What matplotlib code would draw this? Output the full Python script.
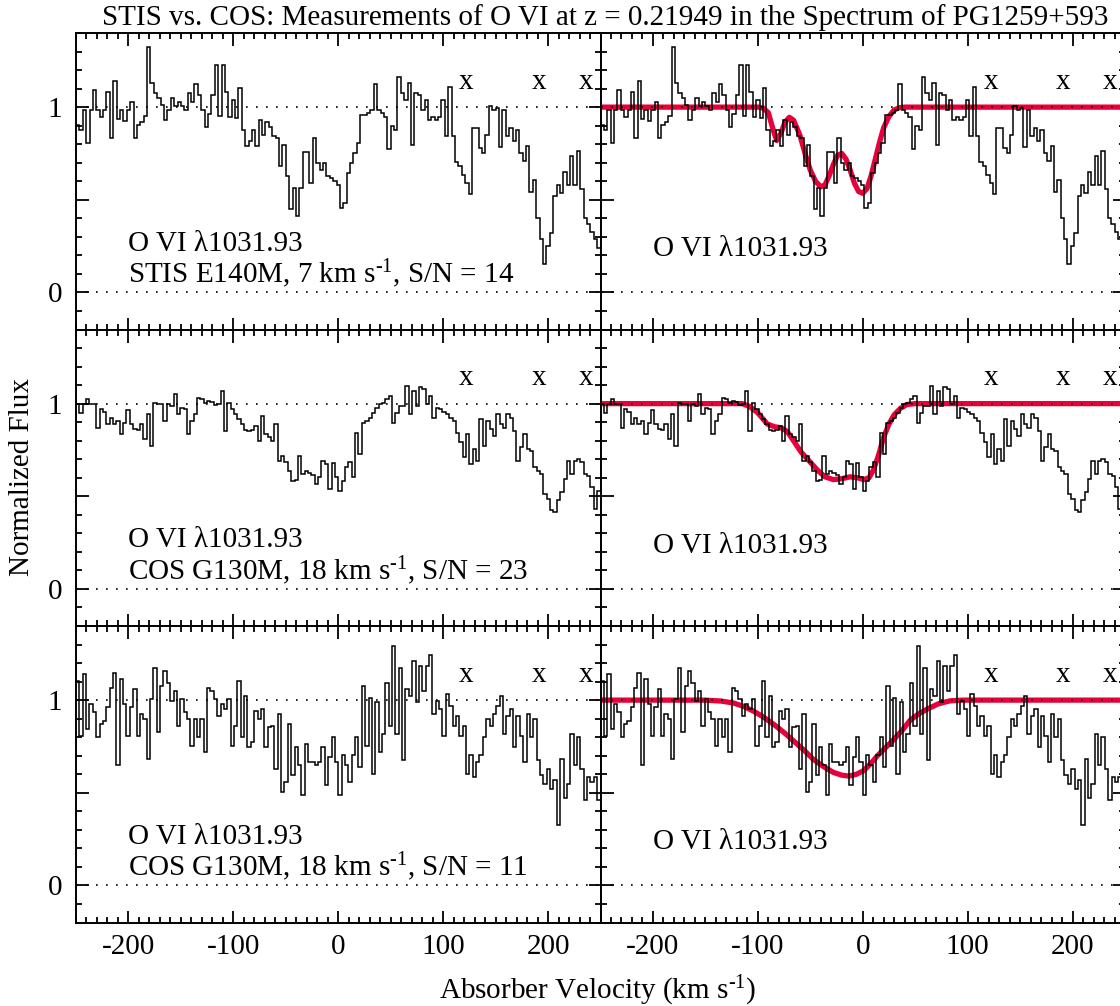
import numpy as np
import matplotlib
matplotlib.use("Agg")
import matplotlib.pyplot as plt
from matplotlib.ticker import MultipleLocator, FixedLocator, FixedFormatter

# ---------------- data ----------------
v_range = [-250.0, 250.0]          # velocity coverage of the plotted pixels (km/s)

stis_flux = [
    0.905, 0.878, 0.986, 0.806, 0.986, 1.093, 0.986, 0.946, 0.986, 1.079,
    0.833, 1.143, 0.935, 0.986, 0.923, 0.986, 1.030, 0.833, 0.905, 0.918,
    0.953, 1.323, 1.129, 1.075, 1.048, 1.013, 0.932, 0.986, 1.048, 1.004,
    1.030, 1.007, 0.986, 1.075, 1.030, 1.124, 1.066, 0.986, 0.892, 0.962,
    1.066, 1.228, 0.950, 1.228, 1.084, 0.946, 1.036, 0.941, 1.102, 0.878,
    0.789, 0.815, 0.878, 0.792, 0.932, 0.851, 0.918, 0.892, 0.846, 0.833,
    0.681, 0.797, 0.627, 0.448, 0.565, 0.412, 0.565, 0.756, 0.756, 0.591,
    0.833, 0.699, 0.663, 0.699, 0.627, 0.618, 0.600, 0.582,
    0.457, 0.484, 0.645, 0.699, 0.753, 0.806, 0.959, 0.959, 0.968, 0.986,
    1.125, 0.986, 0.968, 0.946, 0.774, 0.896, 0.878, 1.165, 1.075, 1.039,
    1.129, 0.797, 1.075, 1.066, 0.986, 1.039, 0.932, 0.946, 0.932, 0.946,
    1.039, 0.842, 1.111, 0.842, 0.703, 0.681, 0.636, 0.591, 0.529, 0.887,
    0.887, 0.780, 0.753, 0.851, 1.007, 0.986, 0.995, 0.785, 0.986, 0.842,
    0.887, 0.815, 0.878, 0.753, 0.708, 0.789, 0.541, 0.609, 0.403, 0.287,
    0.152, 0.251, 0.323, 0.520, 0.582, 0.538, 0.649, 0.582, 0.738, 0.582,
    0.762, 0.556, 0.403, 0.367, 0.326, 0.287, 0.242,
]

cos23_flux = [
    0.996, 0.952, 0.996, 1.023, 1.000, 1.000, 0.871, 0.970, 0.957, 0.889,
    0.925, 0.889, 0.907, 0.835, 0.898, 0.964, 0.889, 0.862, 0.857, 0.889,
    0.809, 0.946, 0.773, 1.005, 1.000, 0.996, 0.907, 0.996, 0.987, 1.050,
    0.943, 0.979, 0.970, 0.835, 0.907, 0.943, 1.032, 1.023, 1.005, 1.014,
    1.010, 0.991, 0.996, 1.068, 0.853, 1.005, 0.970, 0.943, 0.916, 0.889,
    0.857, 0.853, 0.857, 0.880, 0.800, 0.934, 0.835, 0.818, 0.800, 0.889,
    0.692, 0.719, 0.683, 0.639, 0.585, 0.589, 0.719, 0.621, 0.639, 0.624,
    0.617, 0.567, 0.603, 0.689, 0.674, 0.540, 0.678, 0.603, 0.531, 0.585,
    0.657, 0.683, 0.603, 0.844, 0.728, 0.898, 0.907, 0.925, 0.952, 0.979,
    1.000, 1.005, 1.023, 1.041, 0.898, 0.952, 0.987, 0.987, 1.095, 0.943,
    1.068, 0.987, 1.089, 1.077, 0.996, 1.041, 0.925, 0.979, 0.970, 0.957,
    0.946, 0.925, 0.907, 0.844, 0.791, 0.714, 0.835, 0.674, 0.755, 0.692,
    0.916, 0.773, 0.907, 0.862, 0.826, 0.943, 0.889, 0.871, 0.943, 0.925,
    0.853, 0.692, 0.764, 0.835, 0.755, 0.746, 0.657, 0.639, 0.621, 0.513,
    0.487, 0.424, 0.415, 0.478, 0.522, 0.594, 0.692, 0.621, 0.692, 0.701,
    0.683, 0.621, 0.612, 0.549, 0.433, 0.531,
]

cos11_flux = [
    1.104, 0.809, 1.139, 0.845, 0.979, 0.934, 0.800, 0.871, 0.889, 0.961,
    1.068, 1.148, 0.648, 1.113, 0.979, 0.809, 0.961, 1.059, 0.809, 0.925,
    0.898, 0.684, 1.005, 1.175, 0.827, 1.077, 1.157, 1.095, 0.996, 1.050,
    0.863, 1.005, 0.934, 0.898, 0.755, 0.898, 0.800, 0.898, 0.720, 1.068,
    1.050, 1.005, 0.916, 0.979, 0.952, 1.005, 0.755, 0.863, 1.104, 0.800,
    1.023, 0.746, 0.773, 0.943, 0.898, 0.952, 0.746, 0.854, 0.863, 0.630,
    0.925, 0.505, 0.559, 0.871, 0.595, 0.746, 0.648, 0.488, 0.764, 0.666,
    0.666, 0.648, 0.666, 0.746, 0.541, 0.693, 0.800, 0.666, 0.488, 0.702,
    0.648, 0.559, 0.702, 0.800, 0.639, 1.077, 0.755, 1.014, 0.604, 0.988,
    0.720, 0.818, 1.095, 0.863, 1.291, 0.818, 1.175, 0.675, 1.059, 1.023,
    1.211, 0.988, 1.184, 1.050, 1.184, 1.246, 0.925, 0.996, 0.952, 0.809,
    1.032, 0.970, 0.863, 0.916, 0.809, 0.863, 0.604, 0.702, 0.586, 0.666,
    0.702, 0.800, 0.898, 0.863, 0.925, 0.970, 1.023, 0.818, 0.916, 0.952,
    0.746, 0.916, 0.809, 0.666, 0.925, 0.800, 0.898, 0.675, 0.595, 0.550,
    0.630, 0.523, 0.568, 0.327, 0.684, 0.470, 0.550, 0.818, 0.648, 0.800,
    0.630, 0.461, 0.586, 0.559, 0.586, 0.461,
]

# Voigt-profile fits (red)
fit_stis_v = [-250, -100, -95, -90, -85, -82, -78, -74, -70, -66, -60, -55, -50, -45,
              -40, -36, -32, -28, -24, -20, -16, -12, -8, -4, 0, 4, 8, 12, 16, 20,
              25, 30, 35, 40, 250]
fit_stis_f = [1.0, 1.0, 0.995, 0.97, 0.87, 0.82, 0.86, 0.92, 0.945, 0.93, 0.85, 0.75,
              0.66, 0.60, 0.57, 0.58, 0.63, 0.69, 0.74, 0.75, 0.72, 0.66, 0.59, 0.545,
              0.535, 0.56, 0.63, 0.72, 0.81, 0.89, 0.95, 0.985, 0.997, 1.0, 1.0]

fit_cos23_v = [-250, -115, -108, -100, -91, -84, -78, -72, -66, -59, -51, -43, -36,
               -28, -20, -12, -5, 1, 6, 10, 15, 20, 25, 30, 36, 42, 50, 250]
fit_cos23_f = [1.0, 1.0, 0.985, 0.95, 0.89, 0.875, 0.87, 0.85, 0.80, 0.74, 0.69, 0.64,
               0.605, 0.59, 0.595, 0.605, 0.60, 0.59, 0.60, 0.64, 0.72, 0.82, 0.89,
               0.94, 0.975, 0.995, 1.0, 1.0]

fit_cos11_v = [-250, -150, -135, -123, -113, -104, -95, -85, -75, -66, -56, -47, -37,
               -28, -20, -13, -6, 1, 8, 14, 22, 30, 38, 45, 53, 61, 72, 83, 95, 250]
fit_cos11_f = [1.0, 1.0, 0.995, 0.984, 0.965, 0.94, 0.91, 0.87, 0.825, 0.78, 0.73,
               0.68, 0.64, 0.61, 0.595, 0.59, 0.60, 0.62, 0.66, 0.70, 0.745, 0.79,
               0.84, 0.89, 0.925, 0.95, 0.98, 0.996, 1.0, 1.0]

spectra = [stis_flux, cos23_flux, cos11_flux]
fits_v = [fit_stis_v, fit_cos23_v, fit_cos11_v]
fits_f = [fit_stis_f, fit_cos23_f, fit_cos11_f]
instrument_labels = [
    r"STIS E140M, 7 km s$^{\text{-1}}$, S/N = 14",
    r"COS G130M, 18 km s$^{\text{-1}}$, S/N = 23",
    r"COS G130M, 18 km s$^{\text{-1}}$, S/N = 11",
]
line_label = "O VI \u03bb1031.93"
blend_velocities = [122, 191, 236]
title = "STIS vs. COS: Measurements of O VI at z = 0.21949 in the Spectrum of PG1259+593"
xlabel = r"Absorber Velocity (km s$^{\text{-1}}$)"
ylabel = "Normalized Flux"

# ---------------- style ----------------
plt.rcParams["font.family"] = ["Liberation Serif", "DejaVu Serif"]
plt.rcParams["mathtext.fontset"] = "custom"
plt.rcParams["mathtext.rm"] = "Liberation Serif"
plt.rcParams["mathtext.it"] = "Liberation Serif:italic"
plt.rcParams["axes.unicode_minus"] = False
FS = 21
RED = "#e8003c"

W, H = 1120, 1006
fig = plt.figure(figsize=(W / 100, H / 100), dpi=100)
lefts = [76.0, 600.5]
pw = 524.5
tops = [33.0, 329.5, 626.0]
ph = 296.5

for r in range(3):
    flux = np.asarray(spectra[r])
    edges = np.linspace(v_range[0], v_range[1], len(flux) + 1)
    for c in range(2):
        ax = fig.add_axes([lefts[c] / W, 1 - (tops[r] + ph) / H, pw / W, ph / H])
        ax.set_xlim(-250, 250)
        ax.set_ylim(-0.2, 1.4)
        for yv in (0.0, 1.0):
            ax.axhline(yv, color="black", lw=1.2, ls=(0, (1, 5)), zorder=4)
        if c == 1:
            ax.plot(fits_v[r], fits_f[r], color=RED, lw=3.8, zorder=2,
                    solid_capstyle="butt")
        ax.stairs(flux, edges, color="black", lw=1.1, baseline=None, zorder=3)
        for bv in blend_velocities:
            ax.text(bv, 1.10, "x", fontsize=FS, ha="center", va="baseline")
        if c == 0:
            ax.text(-200, 0.225, line_label, fontsize=FS, va="baseline")
            ax.text(-200, 0.052, instrument_labels[r], fontsize=FS, va="baseline")
        else:
            ax.text(-200, 0.195, line_label, fontsize=FS, va="baseline")

        ax.xaxis.set_major_locator(MultipleLocator(100))
        ax.xaxis.set_minor_locator(MultipleLocator(10))
        ax.yaxis.set_major_locator(FixedLocator([0.0, 0.5, 1.0]))
        ax.yaxis.set_major_formatter(FixedFormatter(["0", "", "1"]))
        ax.yaxis.set_minor_locator(MultipleLocator(0.1))
        ax.tick_params(which="both", direction="in", top=True, right=True,
                       width=1.3, labelsize=FS)
        ax.tick_params(which="major", length=9, pad=8)
        ax.tick_params(which="minor", length=4.5)
        ax.tick_params(axis="x", labelbottom=(r == 2))
        ax.tick_params(axis="y", labelleft=(c == 0), pad=10)
        for sp in ax.spines.values():
            sp.set_linewidth(1.4)

fig.text(605 / W, 1 - 25 / H, title, fontsize=FS, ha="center", va="baseline")
fig.text(598 / W, 1 - 999 / H, xlabel, fontsize=FS, ha="center", va="baseline")
fig.text(22 / W, 1 - 477 / H, ylabel, fontsize=FS, ha="center", va="center",
         rotation=90)

fig.savefig("out.png", dpi=100)
